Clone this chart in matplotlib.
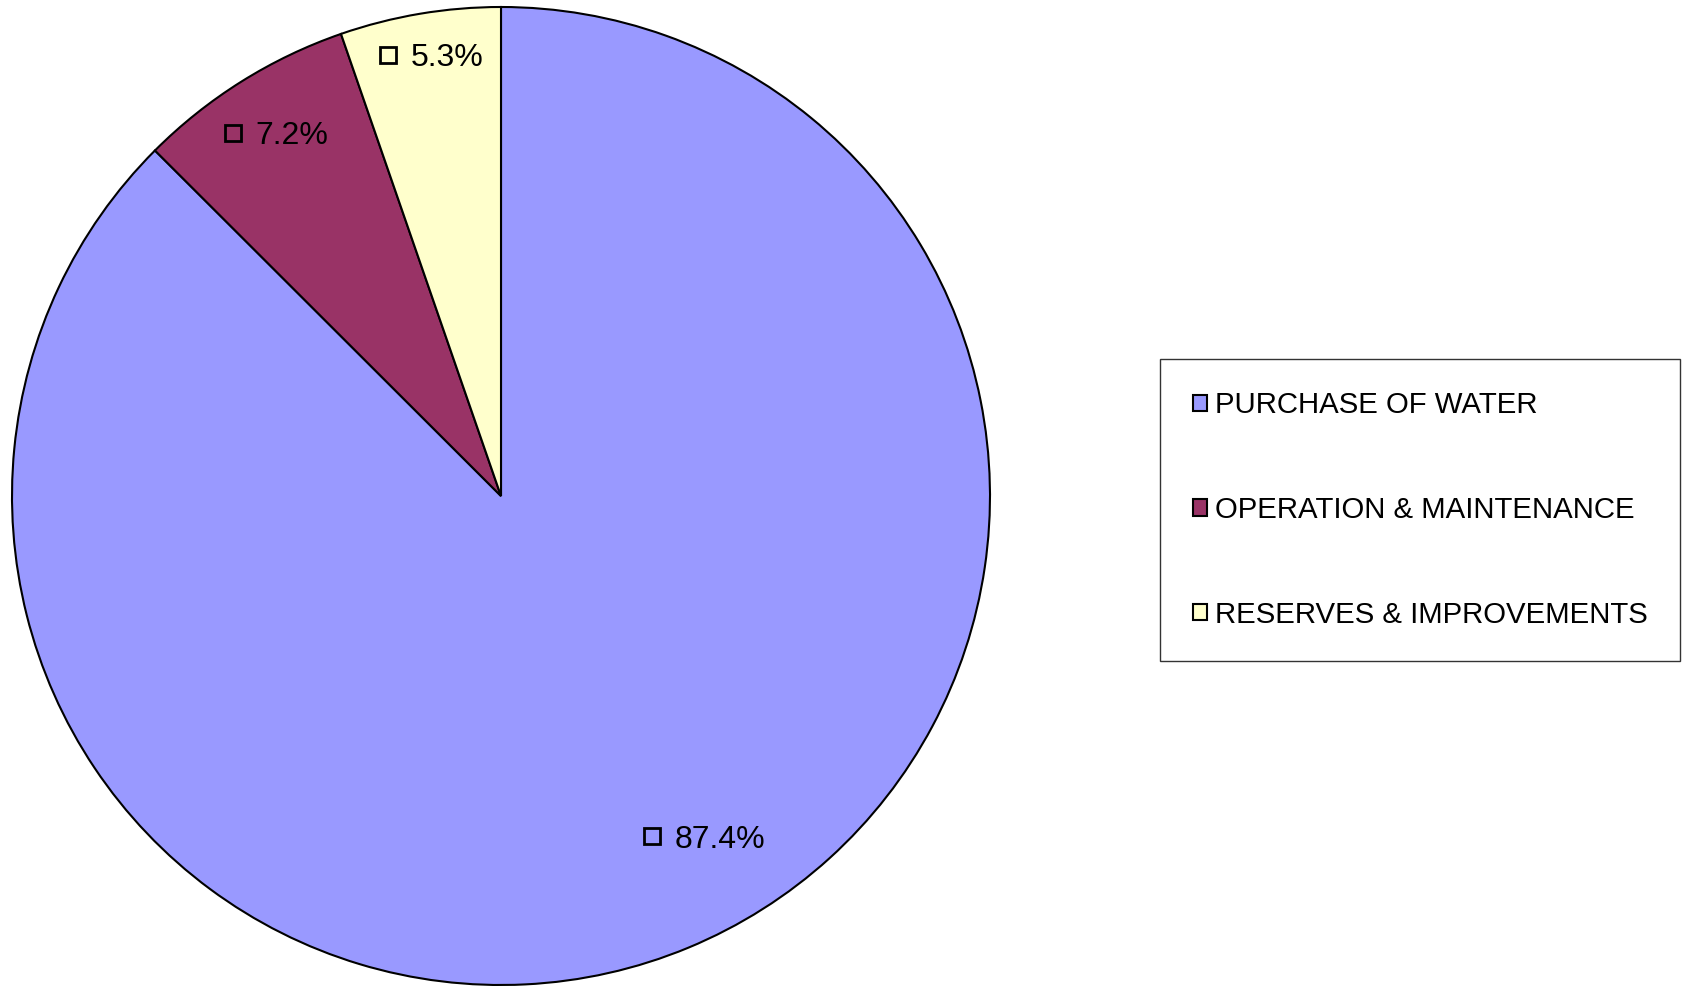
import matplotlib.pyplot as plt
from matplotlib.patches import Patch

plt.rcParams['font.family'] = ['Liberation Sans', 'DejaVu Sans']

categories = ["PURCHASE OF WATER", "OPERATION & MAINTENANCE", "RESERVES & IMPROVEMENTS"]
shares = [87.4, 7.2, 5.3]
colors = ["#9999FF", "#993366", "#FFFFCC"]

# where each label's square sits, in units of the pie radius from the centre
label_offsets = [(0.308, -0.696), (-0.549, 0.743), (-0.231, 0.902)]

W, H = 1685, 986
fig = plt.figure(figsize=(W / 100, H / 100), dpi=100)
ax = fig.add_axes([0, 0, 1, 1])

cx, cy, r = 501, H - 496, 489
ax.pie(shares, colors=colors, startangle=90, counterclock=False,
       center=(cx, cy), radius=r,
       wedgeprops=dict(edgecolor="black", linewidth=1.5))
ax.set_xlim(0, W)
ax.set_ylim(0, H)
ax.set_aspect("equal")
ax.axis("off")

for val, (ox, oy) in zip(shares, label_offsets):
    sx, sy = cx + ox * r, cy + oy * r
    ax.plot(sx, sy, marker="s", markersize=11, markerfacecolor="none",
            markeredgecolor="black", markeredgewidth=2)
    ax.text(sx + 23, sy, f"{val}%", fontsize=23, ha="left",
            va="center_baseline")

handles = [Patch(facecolor=c, edgecolor="black", linewidth=1.5) for c in colors]
leg = fig.legend(handles, categories, loc="center",
                 bbox_to_anchor=(1420 / W, 1 - 510 / H),
                 fontsize=21.2, frameon=True, fancybox=False, shadow=False,
                 handlelength=0.5, handleheight=0.5, handletextpad=0.25,
                 labelspacing=2.6, borderpad=1.1)
leg.get_frame().set_edgecolor("black")
leg.get_frame().set_linewidth(1)

fig.savefig("out.png", dpi=100)
